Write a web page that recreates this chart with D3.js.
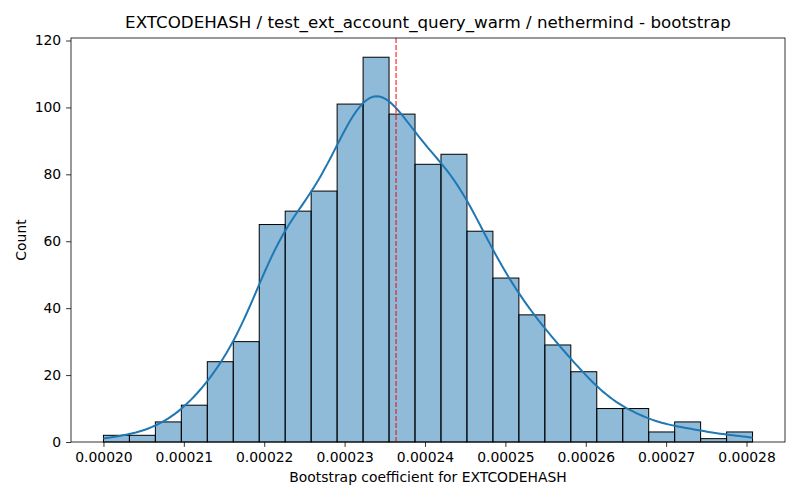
<!DOCTYPE html>
<html>
<head>
<meta charset="utf-8">
<script src="https://cdn.jsdelivr.net/npm/d3@7"></script>
<style>
    body { margin: 0; background: #fff; }
    svg { font-family: "DejaVu Sans", sans-serif; }
</style>
</head>
<body>
<svg id="chart" width="800" height="500"></svg>
<script>
// Histogram of bootstrap coefficients (counts per bin)
var binStart = 0.0002;
var binWidth = 0.00000323;
var binCounts = [2, 2, 6, 11, 24, 30, 65, 69, 75, 101, 115, 98, 83,
                 86, 63, 49, 38, 29, 21, 10, 10, 3, 6, 1, 3];
var meanValue = 0.0002364;
var xTicks = [0.00020, 0.00021, 0.00022, 0.00023, 0.00024, 0.00025, 0.00026, 0.00027, 0.00028];
var yTicks = [0, 20, 40, 60, 80, 100, 120];

var titleText = 'EXTCODEHASH / test_ext_account_query_warm / nethermind - bootstrap';
var xLabelText = 'Bootstrap coefficient for EXTCODEHASH';
var yLabelText = 'Count';

var margin = {left: 71, right: 15, top: 38, bottom: 58};
var width = 800 - margin.left - margin.right;
var height = 500 - margin.top - margin.bottom;

var bins = binCounts.map(function (c, i) {
    return {x0: binStart + i * binWidth, x1: binStart + (i + 1) * binWidth, count: c};
});
var dataMin = bins[0].x0;
var dataMax = bins[bins.length - 1].x1;
var pad = (dataMax - dataMin) * 0.05;

var x = d3.scaleLinear()
    .domain([dataMin - pad, dataMax + pad])
    .range([0, width]);

var maxCount = d3.max(binCounts);
var y = d3.scaleLinear()
    .domain([0, maxCount * 1.05])
    .range([height, 0]);

var svg = d3.select('#chart');
var g = svg.append('g')
    .attr('transform', 'translate(' + margin.left + ',' + margin.top + ')');

// bars
g.selectAll('rect.bar')
    .data(bins)
    .enter().append('rect')
    .attr('class', 'bar')
    .attr('x', function (d) { return x(d.x0); })
    .attr('y', function (d) { return y(d.count); })
    .attr('width', function (d) { return x(d.x1) - x(d.x0); })
    .attr('height', function (d) { return y(0) - y(d.count); })
    .attr('fill', 'rgba(31,119,180,0.5)')
    .attr('stroke', '#000')
    .attr('stroke-width', 1);

// KDE built from the binned counts (Scott bandwidth), scaled to counts
var n = d3.sum(binCounts);
var centers = bins.map(function (d) { return (d.x0 + d.x1) / 2; });
var mu = d3.sum(bins, function (d, i) { return centers[i] * d.count; }) / n;
var variance = d3.sum(bins, function (d, i) {
    return d.count * Math.pow(centers[i] - mu, 2);
}) / (n - 1);
var bw = Math.sqrt(variance) * Math.pow(n, -0.2);

function kde(v) {
    var s = 0;
    for (var i = 0; i < bins.length; i++) {
        var z = (v - centers[i]) / bw;
        s += bins[i].count * Math.exp(-0.5 * z * z);
    }
    return s / (n * bw * Math.sqrt(2 * Math.PI)) * n * binWidth;
}

var kdePts = d3.range(0, 201).map(function (i) {
    var v = dataMin + (dataMax - dataMin) * i / 200;
    return [v, kde(v)];
});

g.append('path')
    .datum(kdePts)
    .attr('fill', 'none')
    .attr('stroke', '#1f77b4')
    .attr('stroke-width', 2)
    .attr('d', d3.line()
        .x(function (d) { return x(d[0]); })
        .y(function (d) { return y(d[1]); }));

// mean marker
g.append('line')
    .attr('x1', x(meanValue))
    .attr('x2', x(meanValue))
    .attr('y1', 0)
    .attr('y2', height)
    .attr('stroke', 'red')
    .attr('stroke-width', 1)
    .attr('stroke-dasharray', '5,2');

// axes
var xAxis = g.append('g')
    .attr('transform', 'translate(0,' + height + ')')
    .call(d3.axisBottom(x).tickValues(xTicks).tickSizeOuter(0).tickSize(4.9).tickPadding(4.9)
        .tickFormat(d3.format('.5f')));
var yAxis = g.append('g')
    .call(d3.axisLeft(y).tickValues(yTicks).tickSizeOuter(0).tickSize(4.9).tickPadding(4.9)
        .tickFormat(d3.format('d')));

[xAxis, yAxis].forEach(function (a) {
    a.select('.domain').remove();
    a.selectAll('text')
        .attr('font-family', '"DejaVu Sans", sans-serif')
        .attr('font-size', '13.9px')
        .attr('fill', '#000');
    a.selectAll('line').attr('stroke', '#000').attr('stroke-width', 0.8);
});

// frame
g.append('rect')
    .attr('x', 0)
    .attr('y', 0)
    .attr('width', width)
    .attr('height', height)
    .attr('fill', 'none')
    .attr('stroke', '#000')
    .attr('stroke-width', 0.8);

// labels
svg.append('text')
    .attr('x', margin.left + width / 2)
    .attr('y', 28)
    .attr('text-anchor', 'middle')
    .attr('font-size', '16.7px')
    .text(titleText);

svg.append('text')
    .attr('x', margin.left + width / 2)
    .attr('y', 482)
    .attr('text-anchor', 'middle')
    .attr('font-size', '13.9px')
    .text(xLabelText);

svg.append('text')
    .attr('transform', 'translate(26,' + (margin.top + height / 2) + ') rotate(-90)')
    .attr('text-anchor', 'middle')
    .attr('font-size', '13.9px')
    .text(yLabelText);
</script>
</body>
</html>
